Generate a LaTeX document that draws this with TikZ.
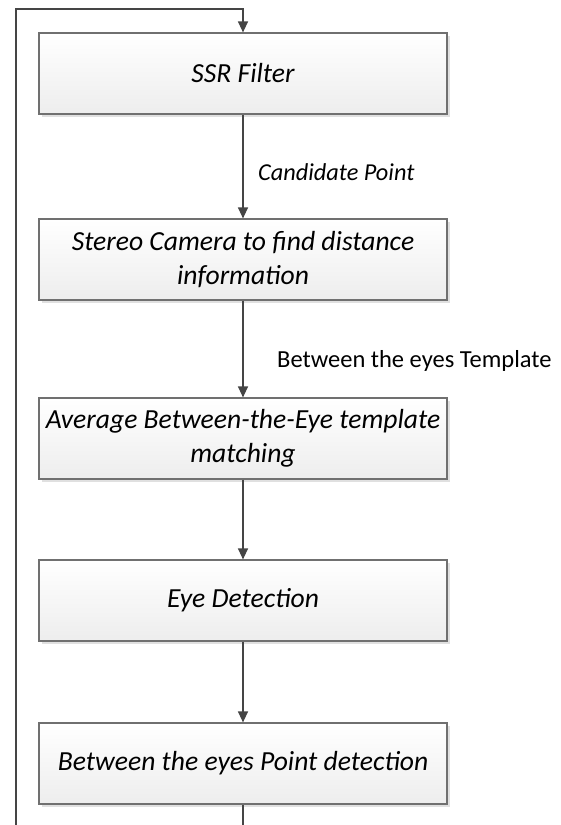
\documentclass[tikz,border=0pt]{standalone}
\usepackage{fontspec}
\setmainfont{Carlito}
\usetikzlibrary{shadows,arrows.meta}
\definecolor{linec}{HTML}{454545}
\definecolor{boxc}{HTML}{707070}
\tikzset{
  stepbox/.style={rectangle, draw=boxc, line width=1.2pt, minimum width=408pt, minimum height=81pt,
    top color=white, bottom color=black!7, align=center, inner sep=0pt,
    font=\fontsize{27.6}{33.5}\selectfont\itshape,
    drop shadow={shadow xshift=2.5pt, shadow yshift=-2.5pt, fill=black!12, opacity=1}},
  arr/.style={draw=linec, line width=1.3pt, -{Triangle[length=11pt,width=10pt]}},
  lab/.style={font=\fontsize{24.5}{29}\selectfont, anchor=west, inner sep=0pt}
}
\begin{document}
\begin{tikzpicture}[x=1pt,y=-1pt]
\useasboundingbox (0,0) rectangle (561,825);
\node[stepbox] (b1) at (243,73.5) {SSR Filter};
\node[stepbox] (b2) at (243,259.5) {Stereo Camera to find distance\\information};
\node[stepbox] (b3) at (243,438.5) {Average Between-the-Eye template\\matching};
\node[stepbox] (b4) at (243,600.5) {Eye Detection};
\node[stepbox] (b5) at (243,763.5) {Between the eyes Point detection};
\coordinate (lb) at (16,826);
\coordinate (lt) at (16,9);
\coordinate (rt) at (243,9);
\coordinate (bb) at (243,826);
\draw[arr] (b1) -- (b2);
\draw[arr] (b2) -- (b3);
\draw[arr] (b3) -- (b4);
\draw[arr] (b4) -- (b5);
\draw[draw=linec, line width=1.3pt] (b5.south) -- (bb);
\draw[arr] (lb) -- (lt) -- (rt) -- (b1.north);
\node[lab, font=\fontsize{24.3}{29}\selectfont\itshape] (l1) at (258,172) {Candidate Point};
\node[lab] (l2) at (277,361) {Between the eyes Template};
\end{tikzpicture}
\end{document}
